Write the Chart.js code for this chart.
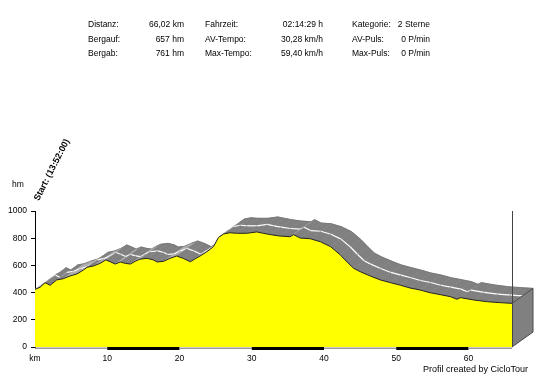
<!DOCTYPE html>
<html><head><meta charset="utf-8">
<script src="https://cdn.jsdelivr.net/npm/chart.js@4/dist/chart.umd.min.js"></script>
<style>
html,body{margin:0;padding:0;background:#fff;}
#wrap{position:relative;width:546px;height:375px;overflow:hidden;font-family:"Liberation Sans",Arial,sans-serif;font-size:8.5px;color:#000;}
#wrap div.t{position:absolute;line-height:10px;white-space:nowrap;}
canvas{position:absolute;left:0;top:0;}
</style></head><body>
<div id="wrap"><canvas id="c" width="546" height="375"></canvas></div>
<script>
// ---- data ----
const kmValues = [0, 0.7, 1.4, 2.1, 3.0, 3.9, 4.85, 5.8, 6.7, 7.2, 8.1, 9.0, 9.8, 10.4, 11.1, 11.8, 12.5, 13.2, 13.85, 14.5, 15.5, 16.4, 16.9, 17.8, 18.7, 19.6, 20.5, 21.5, 21.9, 22.85, 23.8, 24.7, 25.4, 26.1, 27.0, 27.9, 29.3, 30.7, 31.6, 32.6, 33.9, 35.3, 35.8, 36.7, 38.1, 39.5, 40.9, 42.2, 43.2, 44.1, 45.0, 46.4, 47.8, 49.2, 50.6, 51.9, 53.3, 54.7, 56.1, 57.5, 58.4, 58.9, 60.7, 62.6, 64.4, 66.02];
const elevationValues = [424, 439, 473, 454, 493, 502, 522, 537, 566, 586, 596, 615, 640, 627, 610, 625, 615, 610, 630, 645, 652, 640, 625, 630, 652, 669, 652, 627, 640, 669, 701, 738, 806, 831, 840, 836, 836, 846, 836, 826, 816, 811, 826, 801, 796, 774, 738, 680, 625, 579, 554, 522, 493, 473, 454, 434, 419, 399, 385, 370, 351, 363, 346, 333, 326, 321];
const yTickValues = [0, 200, 400, 600, 800, 1000];
const xTickValues = [0, 10, 20, 30, 40, 50, 60];
const xTickLabels = ['km', '10', '20', '30', '40', '50', '60'];
const statLabels = [['Distanz:', 'Bergauf:', 'Bergab:'], ['Fahrzeit:', 'AV-Tempo:', 'Max-Tempo:'], ['Kategorie:', 'AV-Puls:', 'Max-Puls:']];
const statValues = [['66,02 km', '657 hm', '761 hm'], ['02:14:29 h', '30,28 km/h', '59,40 km/h'], ['2 Sterne', '0 P/min', '0 P/min']];
const startLabel = 'Start: (13:52:00)';
const yUnit = 'hm';
const footerText = 'Profil created by CicloTour';

// ---- text overlay ----
const wrap = document.getElementById('wrap');
function addText(txt, css){ const d=document.createElement('div'); d.className='t'; d.textContent=txt; Object.assign(d.style, css); wrap.appendChild(d); return d; }
const labelLeft = [88, 205, 352], valueRight = [184, 323, 430], rowTop = [19, 34, 48];
statLabels.forEach((col, c) => col.forEach((s, r) => addText(s, {left: labelLeft[c] + 'px', top: rowTop[r] + 'px'})));
statValues.forEach((col, c) => col.forEach((s, r) => addText(s, {left: (valueRight[c] - 100) + 'px', width: '100px', textAlign: 'right', top: rowTop[r] + 'px'})));
addText(yUnit, {left: '12px', top: '179px'});
addText(startLabel, {left: '36px', top: '195px', fontWeight: 'bold', fontSize: '9px', transformOrigin: '0 5px', transform: 'rotate(-63deg)'});
addText(footerText, {left: '388px', width: '140px', textAlign: 'right', top: '364px', fontSize: '9px'});

// ---- chart ----
const DX = 21, DY = -15;
const ribbon = {
  id: 'ribbon',
  beforeDatasetsDraw(chart) {
    const pts = chart.getDatasetMeta(0).data;
    const ctx = chart.ctx;
    const yb = chart.scales.y.getPixelForValue(0);
    ctx.save();
    for (let i = 0; i < pts.length - 1; i++) {
      const p = pts[i], q = pts[i + 1];
      ctx.beginPath();
      ctx.moveTo(p.x, p.y); ctx.lineTo(q.x, q.y);
      ctx.lineTo(q.x + DX, q.y + DY); ctx.lineTo(p.x + DX, p.y + DY);
      ctx.closePath();
      const c = (q.y < p.y - 2) ? '#ababab' : '#808080';
      ctx.fillStyle = c; ctx.strokeStyle = c; ctx.lineWidth = 0.6;
      ctx.fill(); ctx.stroke();
      ctx.beginPath();
      ctx.moveTo(p.x + DX / 2, p.y + DY / 2); ctx.lineTo(q.x + DX / 2, q.y + DY / 2);
      ctx.strokeStyle = '#ffffff'; ctx.lineWidth = 1.2; ctx.stroke();
      ctx.beginPath();
      ctx.moveTo(p.x + DX, p.y + DY); ctx.lineTo(q.x + DX, q.y + DY);
      ctx.strokeStyle = '#6e6e6e'; ctx.lineWidth = 0.8; ctx.stroke();
    }
    const last = pts[pts.length - 1];
    ctx.beginPath();
    ctx.moveTo(last.x, last.y); ctx.lineTo(last.x, yb);
    ctx.lineTo(last.x + DX, yb + DY); ctx.lineTo(last.x + DX, last.y + DY);
    ctx.closePath();
    ctx.fillStyle = '#808080'; ctx.fill();
    ctx.strokeStyle = '#4a4a4a'; ctx.lineWidth = 1; ctx.stroke();
    ctx.restore();
  },
  afterDraw(chart) {
    const ctx = chart.ctx, xs = chart.scales.x, ys = chart.scales.y;
    const yb = ys.getPixelForValue(0);
    const xmax = kmValues[kmValues.length - 1];
    ctx.save();
    for (let k = 0; k * 10 < xmax; k++) {
      const x0 = xs.getPixelForValue(k * 10), x1 = xs.getPixelForValue(Math.min(k * 10 + 10, xmax));
      if (k % 2) { ctx.fillStyle = '#000'; ctx.fillRect(x0, yb, x1 - x0, 3); }
      else { ctx.fillStyle = '#9a9a9a'; ctx.fillRect(x0, yb + 0.5, x1 - x0, 1.5); }
    }
    const xr = Math.round(xs.getPixelForValue(xmax)) + 0.5;
    ctx.beginPath(); ctx.moveTo(xr, ys.getPixelForValue(1000)); ctx.lineTo(xr, yb);
    ctx.strokeStyle = '#444'; ctx.lineWidth = 1; ctx.stroke();
    ctx.restore();
  }
};

Chart.defaults.font.family = '"Liberation Sans", Arial, sans-serif';
Chart.defaults.font.size = 8.5;
Chart.defaults.color = '#000';

new Chart(document.getElementById('c'), {
  type: 'line',
  data: {
    datasets: [{
      data: kmValues.map((k, i) => ({x: k, y: elevationValues[i]})),
      fill: 'origin',
      backgroundColor: '#ffff00',
      borderColor: '#222',
      borderWidth: 1,
      pointRadius: 0,
      tension: 0
    }]
  },
  options: {
    responsive: false,
    animation: false,
    devicePixelRatio: 1,
    layout: {padding: {top: 211, right: 34, left: 0, bottom: 0}},
    plugins: {legend: {display: false}, tooltip: {enabled: false}},
    scales: {
      x: {
        type: 'linear', min: 0, max: kmValues[kmValues.length - 1],
        afterFit: s => { s.height = 28; },
        afterBuildTicks: s => { s.ticks = xTickValues.map(v => ({value: v})); },
        grid: {display: false, drawTicks: false}, border: {display: false},
        ticks: {padding: 7, maxRotation: 0, autoSkip: false, callback: (v) => xTickLabels[xTickValues.indexOf(v)]}
      },
      y: {
        min: 0, max: 1000,
        afterFit: s => { s.width = 35; },
        afterBuildTicks: s => { s.ticks = yTickValues.map(v => ({value: v})); },
        grid: {drawOnChartArea: false, drawTicks: true, tickLength: 4, color: '#000'},
        border: {display: true, color: '#000', width: 1},
        ticks: {padding: 4, callback: (v) => String(v)}
      }
    }
  },
  plugins: [ribbon]
});
</script>
</body></html>
